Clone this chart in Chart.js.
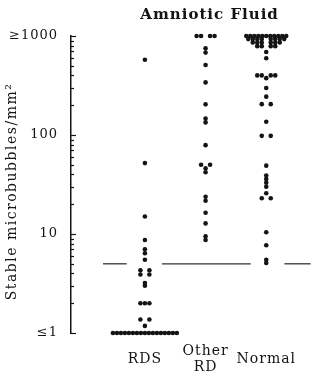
<!DOCTYPE html>
<html>
<head>
<meta charset="utf-8">
<script src="https://cdn.jsdelivr.net/npm/chart.js@4.4.1/dist/chart.umd.min.js"></script>
<style>
  html, body { margin: 0; padding: 0; background: #fff; }
  canvas { display: block; }
</style>
</head>
<body>
<canvas id="chart" width="320" height="378"></canvas>
<script>
const categories = ['RDS', ['Other', 'RD'], 'Normal'];
const categoryPositions = [1, 2, 3];

// stable microbubbles/mm2, one entry per patient
const rdsValues = [575, 52, 15, 8.7, 7.0, 6.4, 5.5, 4.3, 4.3, 3.9, 3.9, 3.2, 3.0,
  2, 2, 2, 1.37, 1.37, 1.18,
  1, 1, 1, 1, 1, 1, 1, 1, 1, 1, 1, 1, 1, 1, 1, 1, 1];
const otherRdValues = [1000, 1000, 1000, 1000, 750, 680, 510, 340, 204, 147, 134,
  79, 50, 50, 46, 42, 23.8, 21.7, 16.4, 12.8, 9.5, 8.7];
const normalValues = [1000, 1000, 1000, 1000, 1000, 1000, 1000, 1000, 1000, 1000, 1000,
  930, 930, 930, 930, 930, 930, 930, 930,
  860, 860, 860, 860, 860, 860,
  790, 790, 790, 790, 690, 595, 400, 400, 400, 400, 375, 298, 244, 205, 205,
  136, 98, 98, 49, 39, 36, 33, 30, 25.8, 23, 23, 10.4, 7.7, 5.5, 5.1];

const yTickValues = [1, 10, 100, 1000];
const yTickLabels = ['≤1', '10', '100', '≥1000'];
const yTitle = 'Stable microbubbles/mm²';
const chartTitle = 'Amniotic Fluid';

const cutoffValue = 5;
const cutoffSpans = [[0.31, 0.70], [1.28, 2.745], [3.30, 3.73]];

const xMin = -0.218;
const xMax = 3.848;
const pxPerUnit = 247 / (xMax - xMin);

// identical values are spread side by side, like a dot plot
function spread(values, center) {
  const counts = {};
  values.forEach(v => counts[v] = (counts[v] || 0) + 1);
  const seen = {};
  return values.map(v => {
    const n = counts[v];
    const i = seen[v] = (seen[v] || 0) + 1;
    const step = (n > 8 ? 4 : 4.5) / pxPerUnit;
    let slot;
    if (n % 2) {
      slot = i - 1 - (n - 1) / 2;
    } else {
      const k = i - 1 - n / 2;
      slot = k < 0 ? k : k + 1;
    }
    return { x: center + slot * step, y: v };
  });
}

const ink = '#141414';
const serif = "'DejaVu Serif', serif";

const typewriter = {
  id: 'typewriter',
  beforeDraw(chart) {
    chart.ctx.letterSpacing = '1px';
  },
  afterDraw(chart) {
    const { ctx, chartArea } = chart;
    const y = chart.scales.y;
    const x = chart.scales.x;
    const left = chartArea.left;
    ctx.save();
    ctx.strokeStyle = ink;
    ctx.lineWidth = 1.2;
    // inward major and minor ticks
    for (let d = 1; d <= 1000; d *= 10) {
      for (let m = 1; m < 10; m++) {
        const v = d * m;
        if (v > 1000) break;
        const py = Math.round(y.getPixelForValue(v)) + 0.5;
        const len = m === 1 ? 5 : 3;
        ctx.beginPath();
        ctx.moveTo(left, py);
        ctx.lineTo(left + len, py);
        ctx.stroke();
      }
    }
    ctx.fillStyle = ink;
    ctx.textAlign = 'center';
    ctx.textBaseline = 'middle';

    ctx.letterSpacing = '1px';
    ctx.font = 'bold 15px ' + serif;
    ctx.fillText(chartTitle, x.getPixelForValue(2) + 4, 15);

    ctx.letterSpacing = '1.5px';
    ctx.font = '14px ' + serif;
    ctx.translate(12, (chartArea.top + chartArea.bottom) / 2 + 7);
    ctx.rotate(-Math.PI / 2);
    ctx.fillText(yTitle, 0, 0);
    ctx.restore();
  }
};

Chart.defaults.font.family = serif;
Chart.defaults.color = ink;

const dotStyle = {
  type: 'scatter',
  pointRadius: 2.3,
  pointHoverRadius: 2.3,
  pointBorderWidth: 0,
  backgroundColor: ink,
  borderColor: ink,
  clip: false,
  order: 1
};

const datasets = [
  { ...dotStyle, label: 'RDS', data: spread(rdsValues, categoryPositions[0]) },
  { ...dotStyle, label: 'Other RD', data: spread(otherRdValues, categoryPositions[1]) },
  { ...dotStyle, label: 'Normal', data: spread(normalValues, categoryPositions[2]) }
];

cutoffSpans.forEach(([a, b]) => {
  datasets.push({
    type: 'line',
    data: [{ x: a, y: cutoffValue }, { x: b, y: cutoffValue }],
    borderColor: '#333',
    borderWidth: 1.3,
    pointRadius: 0,
    clip: false,
    order: 2
  });
});

new Chart(document.getElementById('chart'), {
  type: 'scatter',
  data: { datasets },
  options: {
    responsive: false,
    animation: false,
    layout: { padding: { top: 36, right: 2, left: 0, bottom: 0 } },
    plugins: {
      legend: { display: false },
      tooltip: { enabled: false },
      title: { display: false }
    },
    scales: {
      x: {
        type: 'linear',
        min: xMin,
        max: xMax,
        afterBuildTicks: s => { s.ticks = categoryPositions.map(v => ({ value: v })); },
        afterFit: s => { s.height = 45; },
        ticks: {
          callback: v => categories[categoryPositions.indexOf(v)],
          padding: 18,
          maxRotation: 0,
          autoSkip: false,
          crossAlign: 'center',
          color: ink,
          font: { size: 14, lineHeight: 1.15 }
        },
        grid: { display: false, drawTicks: false, tickLength: 0 },
        border: { display: false }
      },
      y: {
        type: 'logarithmic',
        min: 1,
        max: 1000,
        afterBuildTicks: s => { s.ticks = yTickValues.map(v => ({ value: v, major: true })); },
        afterFit: s => { s.width = 71; },
        ticks: {
          callback: v => yTickLabels[yTickValues.indexOf(v)],
          padding: 13,
          color: ink,
          font: { size: 13 }
        },
        grid: { display: false, drawTicks: false, tickLength: 0 },
        border: { display: true, color: ink, width: 1.5 },
        title: { display: false }
      }
    }
  },
  plugins: [typewriter]
});
</script>
</body>
</html>
